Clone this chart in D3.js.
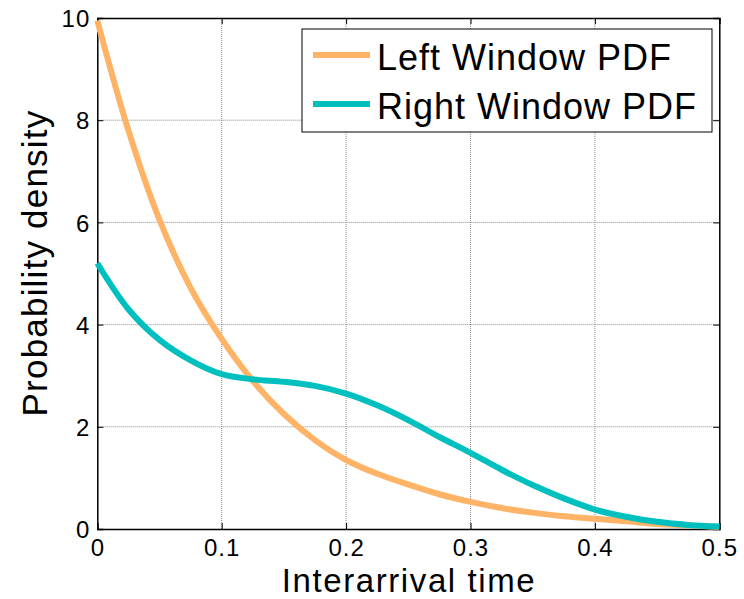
<!DOCTYPE html>
<html>
<head>
<meta charset="utf-8">
<script src="https://cdn.jsdelivr.net/npm/d3@7"></script>
<style>
  body { margin: 0; background: #fff; }
  text { font-family: "Liberation Sans", Arial, sans-serif; fill: #000; }
</style>
</head>
<body>
<div id="chart"></div>
<script>
// values
let xs = [0, 0.025, 0.05, 0.075, 0.1, 0.125, 0.15, 0.175, 0.2, 0.225, 0.25,
  0.275, 0.3, 0.325, 0.35, 0.375, 0.4, 0.425, 0.45, 0.475, 0.5];
let leftPdf = [9.95, 7.8, 6.05, 4.72, 3.72, 2.9, 2.25, 1.74, 1.35, 1.08, 0.87,
  0.68, 0.53, 0.41, 0.32, 0.25, 0.2, 0.15, 0.1, 0.07, 0.04];
let rightPdf = [5.2, 4.3, 3.7, 3.3, 3.03, 2.93, 2.88, 2.8, 2.65, 2.42, 2.13,
  1.8, 1.49, 1.16, 0.86, 0.6, 0.38, 0.24, 0.14, 0.08, 0.05];
let xTicks = [0, 0.1, 0.2, 0.3, 0.4, 0.5];
let yTicks = [0, 2, 4, 6, 8, 10];
let seriesNames = ['Left Window PDF', 'Right Window PDF'];
let colors = ['#FFB366', '#00BFBF'];

let width = 744, height = 599;
let margin = { top: 18, right: 24.7, bottom: 70, left: 97.3 };
let w = width - margin.left - margin.right;
let h = height - margin.top - margin.bottom;

let svg = d3.select('#chart').append('svg')
  .attr('width', width)
  .attr('height', height);

let g = svg.append('g')
  .attr('transform', 'translate(' + margin.left + ',' + margin.top + ')');

let x = d3.scaleLinear().domain([0, 0.5]).range([0, w]);
let y = d3.scaleLinear().domain([0, 10]).range([h, 0]);

// grid
g.append('g').selectAll('line')
  .data(xTicks.slice(1, -1)).enter().append('line')
  .attr('x1', d => x(d)).attr('x2', d => x(d))
  .attr('y1', 0).attr('y2', h)
  .attr('stroke', '#8a8a8a').attr('stroke-width', 1)
  .attr('stroke-dasharray', '1,1');
g.append('g').selectAll('line')
  .data(yTicks.slice(1, -1)).enter().append('line')
  .attr('y1', d => y(d)).attr('y2', d => y(d))
  .attr('x1', 0).attr('x2', w)
  .attr('stroke', '#8a8a8a').attr('stroke-width', 1)
  .attr('stroke-dasharray', '1,1');

// axes (ticks pointing inwards, box on)
let tickLen = 6;
let bottomAxis = g.append('g')
  .attr('transform', 'translate(0,' + h + ')')
  .call(d3.axisBottom(x).tickValues(xTicks).tickSize(-tickLen).tickPadding(10)
    .tickFormat(d => d === 0 ? '0' : d3.format('.1f')(d)));
let leftAxis = g.append('g')
  .call(d3.axisLeft(y).tickValues(yTicks).tickSize(-tickLen).tickPadding(7)
    .tickFormat(d3.format('d')));
let topAxis = g.append('g')
  .call(d3.axisTop(x).tickValues(xTicks).tickSize(-tickLen).tickFormat(''));
let rightAxis = g.append('g')
  .attr('transform', 'translate(' + w + ',0)')
  .call(d3.axisRight(y).tickValues(yTicks).tickSize(-tickLen).tickFormat(''));

[bottomAxis, leftAxis, topAxis, rightAxis].forEach(a => {
  a.select('.domain').attr('stroke', '#000').attr('stroke-width', 1.5);
  a.selectAll('.tick line').attr('stroke', '#000');
  a.selectAll('text')
    .style('font-family', '"Liberation Sans", Arial, sans-serif')
    .style('font-size', '24px')
    .style('letter-spacing', '1px')
    .attr('fill', '#000');
});
bottomAxis.selectAll('text').attr('dy', '0.71em');
leftAxis.selectAll('text').attr('dy', '0.36em');

// curves
let line = d3.line()
  .x((d, i) => x(xs[i]))
  .y(d => y(d))
  .curve(d3.curveCatmullRom.alpha(0.5));

[leftPdf, rightPdf].forEach((s, k) => {
  g.append('path')
    .datum(s)
    .attr('d', line)
    .attr('fill', 'none')
    .attr('stroke', colors[k])
    .attr('stroke-width', 6)
    .attr('stroke-linejoin', 'round');
});

// axis titles
svg.append('text')
  .attr('x', 409)
  .attr('y', 592)
  .attr('text-anchor', 'middle')
  .style('font-size', '33px')
  .style('letter-spacing', '1.6px')
  .text('Interarrival time');

svg.append('text')
  .attr('transform', 'translate(47,263) rotate(-90)')
  .attr('text-anchor', 'middle')
  .style('font-size', '35px')
  .style('letter-spacing', '1.2px')
  .text('Probability density');

// legend
let legend = svg.append('g').attr('transform', 'translate(302,29)');
legend.append('rect')
  .attr('width', 410).attr('height', 103)
  .attr('fill', '#fff').attr('stroke', '#000').attr('stroke-width', 1);
seriesNames.forEach((name, k) => {
  let row = legend.append('g').attr('transform', 'translate(0,' + (26 + k * 49) + ')');
  row.append('line')
    .attr('x1', 11).attr('x2', 68)
    .attr('stroke', colors[k]).attr('stroke-width', 6);
  row.append('text')
    .attr('x', 75).attr('y', 15)
    .style('font-size', '36px')
    .style('letter-spacing', '1px')
    .text(name);
});
</script>
</body>
</html>
